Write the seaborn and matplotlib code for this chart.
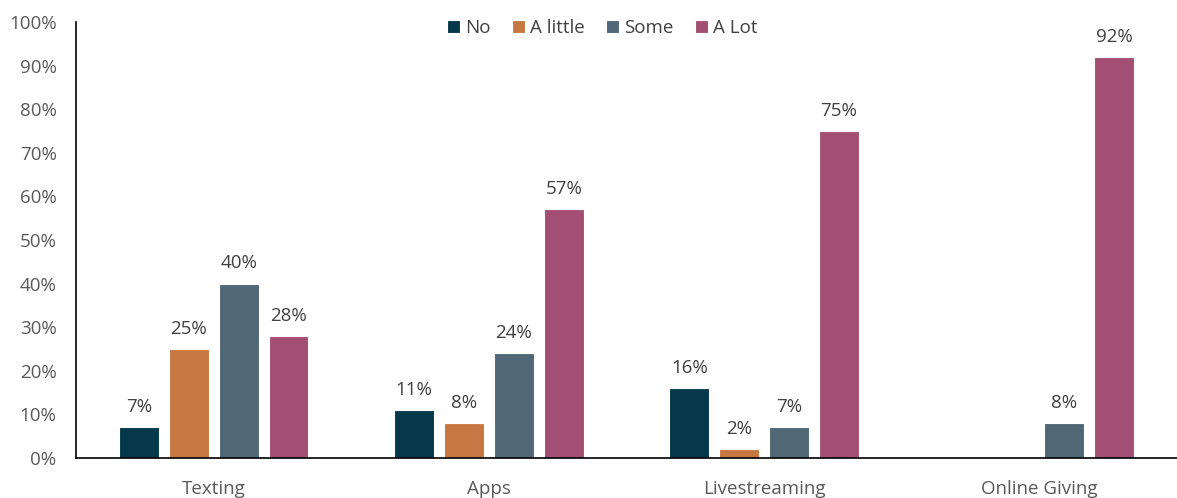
import numpy as np
import pandas as pd
import matplotlib
matplotlib.use("Agg")
import matplotlib.pyplot as plt
import seaborn as sns

categories = ["Texting", "Apps", "Livestreaming", "Online Giving"]
levels = ["No", "A little", "Some", "A Lot"]
no_vals = [7, 11, 16, np.nan]
little_vals = [25, 8, 2, np.nan]
some_vals = [40, 24, 7, 8]
alot_vals = [28, 57, 75, 92]
yticks = list(range(0, 101, 10))

colors = ["#05384B", "#C77842", "#506775", "#A34F74"]

rows = []
for lvl, vals in zip(levels, [no_vals, little_vals, some_vals, alot_vals]):
    for cat, v in zip(categories, vals):
        rows.append({"Channel": cat, "Level": lvl, "Pct": v})
df = pd.DataFrame(rows)

sns.set_theme(style="white")
plt.rcParams["font.family"] = ["Open Sans", "DejaVu Sans"]

fig = plt.figure(figsize=(11.77, 4.98), dpi=100)
ax = fig.add_axes([76 / 1177, 40 / 498, 1101 / 1177, 436 / 498])

sns.barplot(data=df, x="Channel", y="Pct", hue="Level", order=categories,
            hue_order=levels, palette=colors, saturation=1, width=0.725, gap=0.2,
            edgecolor="white", linewidth=0.8, ax=ax, legend=True)

for container in ax.containers:
    labels = ["" if np.isnan(v) else f"{v:.0f}%" for v in container.datavalues]
    ax.bar_label(container, labels=labels, padding=8, fontsize=13.5, color="#404040")

ax.set_ylim(0, 100)
ax.set_xlim(-0.5, 3.5)
ax.set_yticks(yticks)
ax.set_yticklabels([f"{t}%" for t in yticks])
ax.set_xlabel("")
ax.set_ylabel("")
ax.tick_params(axis="both", length=0, labelsize=13.5, colors="#595959")
ax.tick_params(axis="x", pad=16)
ax.tick_params(axis="y", pad=14)
for side in ["top", "right"]:
    ax.spines[side].set_visible(False)
for side in ["left", "bottom"]:
    ax.spines[side].set_color("black")
    ax.spines[side].set_linewidth(1.2)

handles, labs = ax.get_legend_handles_labels()
ax.legend(handles, labs, loc="upper center", bbox_to_anchor=(0.478, 1.045), ncol=4,
          frameon=False, fontsize=13.5, handlelength=0.7, handleheight=0.7,
          handletextpad=0.3, columnspacing=1.1, labelcolor="#404040")

fig.savefig("out.png", dpi=100)
